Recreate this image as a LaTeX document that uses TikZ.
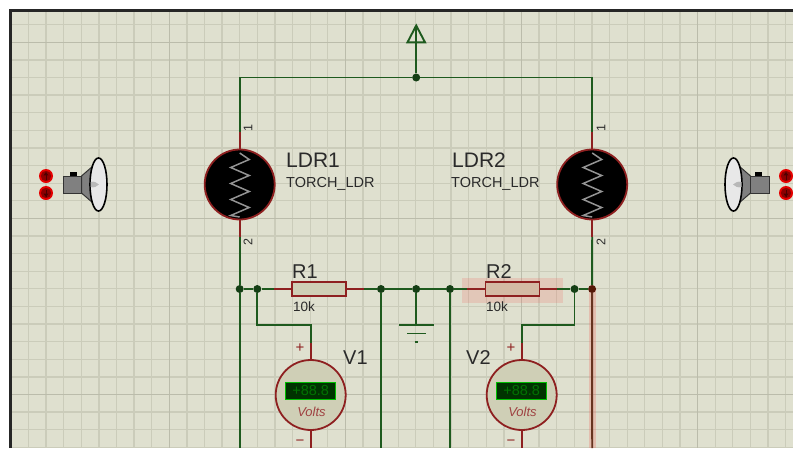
\documentclass[tikz,border=0pt]{standalone}
\usepackage{fontspec}
\usepackage{xcolor}
\setmainfont{Liberation Sans}
\definecolor{sheet}{HTML}{DFE0CF}
\definecolor{gridminor}{HTML}{CBCCBA}
\definecolor{gridmajor}{HTML}{BBBCAB}
\definecolor{wiregreen}{HTML}{1E5A1E}
\definecolor{pinred}{HTML}{8E2020}
\definecolor{partfill}{HTML}{CFCFB6}
\definecolor{inktext}{HTML}{2A2A2A}

\begin{document}
\begin{tikzpicture}[x=1pt,y=-1pt]
                        \tikzset{Wire/.style={-,draw=wiregreen,line width=1.9pt},%
                                Pin/.style={-,draw=pinred,line width=1.9pt},%
                                Junction/.style={%
                                shape=circle,%
                                fill=wiregreen!70!black,%
                                minimum size=8pt,%
                                inner sep=0pt,%
                            },%
                                Ldr/.style={%
                                shape=circle,%
                                draw=pinred,%
                                fill=black,%
                                line width=1.8pt,%
                                minimum size=70pt,%
                                inner sep=0pt,%
                            },%
                                Meter/.style={%
                                shape=circle,%
                                draw=pinred,%
                                fill=partfill,%
                                line width=1.8pt,%
                                minimum size=70pt,%
                                inner sep=0pt,%
                            },%
                                Display/.style={%
                                shape=rectangle,%
                                draw=green!75!black,%
                                fill=green!20!black,%
                                text=green!45!black,%
                                line width=1.2pt,%
                                minimum width=50pt,%
                                minimum height=17pt,%
                                inner sep=0pt,%
                                font=\fontsize{14.5}{15}\selectfont,%
                            },%
                                Res/.style={%
                                shape=rectangle,%
                                draw=pinred,%
                                fill=partfill,%
                                line width=1.9pt,%
                                minimum width=54pt,%
                                minimum height=14pt,%
                                inner sep=0pt,%
                            },%
                                Big/.style={anchor=base west,inner sep=0pt,text=inktext,font=\fontsize{20}{20}\selectfont},%
                                Small/.style={anchor=base west,inner sep=0pt,text=inktext,font=\fontsize{13.5}{14}\selectfont},%
                                PinNum/.style={inner sep=0pt,text=inktext,rotate=90,font=\fontsize{12.5}{13}\selectfont},%
                                Sign/.style={inner sep=0pt,text=pinred,font=\fontsize{15}{15}\selectfont},%
                                Speaker/.pic={%
                                \foreach \s/\t in {-8.5/-1,8.5/1}{%
                                    \fill[red!90!black] (0,\s) circle (7);
                                    \fill[red!55!black] (0,\s) circle (5.2);
                                    \draw[black!70!red,line width=0.9pt] (0,\s-3.5*\t) -- (0,\s+3.5*\t);
                                    \fill[black!70!red] (-2.4,\s*1+0.6*\t) -- (2.4,\s*1+0.6*\t) -- (0,\s+4*\t) -- cycle;
                                }
                                \fill[black] (24,-12.5) rectangle (31,-8.5);
                                \draw[black!80,line width=1pt,fill=gray] (35.5,-8.5) -- (47,-18.5) -- (47,18.5) -- (35.5,8.5) -- cycle;
                                \draw[black!80,line width=1pt,fill=gray] (17,-8.5) rectangle (35.5,8.5);
                                \draw[black,line width=1.6pt,fill=black!9] (52.5,0) ellipse (8.5 and 26.5);
                                \fill[black!28] (44.5,-2.5) .. controls (48,-3.5) and (51,-2) .. (53,0) .. controls (51,2) and (48,3.5) .. (44.5,2.5) -- cycle;
                            },%
                                Zigzag/.pic={%
                                \draw[black!42,line width=1.5pt] (0,-31.5) -- (9.5,-25) -- (-9,-17) -- (9.5,-9) -- (-9,-1) -- (9.5,7) -- (-9,15) -- (9.5,23) -- (-9,31) -- (0,32.5);
                            }}

                            % sheet and grid
                            \useasboundingbox (0,0) rectangle (793,448);
                            \fill[white] (0,0) rectangle (793,448);
                            \fill[sheet] (10,10) rectangle (793,448);
                            \foreach \i in {-8,...,35}{%
                                \pgfmathsetmacro{\gx}{169.3+17.61*\i}
                                \draw[gridminor,line width=1.3pt] (\gx,10) -- (\gx,448);
                            }
                            \foreach \i in {-1,...,23}{%
                                \pgfmathsetmacro{\gy}{42.3+17.61*\i}
                                \draw[gridminor,line width=1.3pt] (10,\gy) -- (793,\gy);
                            }
                            \foreach \gx in {169.3,345.4,521.5,697.6}{%
                                \draw[gridmajor,line width=1.4pt] (\gx,10) -- (\gx,448);
                            }
                            \foreach \gy in {42.3,218.4,394.5}{%
                                \draw[gridmajor,line width=1.4pt] (10,\gy) -- (793,\gy);
                            }
                            \draw[black!85,line width=3pt] (10,448) -- (10,10) -- (793,10);

                            % highlight of the selected part
                            \fill[red!50!sheet,opacity=0.22] (462,277.7) rectangle (563,302.7);
                            \fill[red!50!sheet,opacity=0.3] (588.5,289) rectangle (596,448);

                            % parts
                            \node[Ldr] (ldra) at (239.7,184.5) {};
                            \node[Ldr] (ldrb) at (592.2,184.5) {};
                            \pic at (ldra) {Zigzag};
                            \pic at (ldrb) {Zigzag};
                            \node[Meter] (va) at (310.7,395) {};
                            \node[Meter] (vb) at (521.7,395) {};
                            \node[Display] (da) at (310.7,391) {+88.8};
                            \node[Display] (db) at (521.7,391) {+88.8};
                            \node[inner sep=0pt,text=pinred!85!white,font=\fontsize{13}{13}\itshape] (ta) at (311.5,412) {Volts};
                            \node[inner sep=0pt,text=pinred!85!white,font=\fontsize{13}{13}\itshape] (tb) at (522.5,412) {Volts};
                            \pic at (46,184.5) {Speaker};
                            \pic[xscale=-1] at (786,184.5) {Speaker};

                            % junctions on the resistor rail
                            \node[Junction] (j1) at (239.7,289) {};
                            \node[Junction, right of=j1, node distance=17.6pt] (j2) {};
                            \node[Res, right of=j2, node distance=61.7pt] (r1) {};
                            \node[Junction, right of=r1, node distance=62pt] (j3) {};
                            \node[Junction, right of=j3, node distance=35.2pt] (j4) {};
                            \node[Junction, right of=j4, node distance=33.8pt] (j5) {};
                            \node[Res, fill=red!10!partfill, right of=j5, node distance=62.5pt] (r2) {};
                            \node[Junction, right of=r2, node distance=62pt] (j6) {};
                            \node[Junction, fill=black!60!wiregreen!70!red, right of=j6, node distance=17.6pt] (j7) {};
                            \node[Junction] (jt) at (416.2,77.5) {};

                            % free ends of pins and wires
                            \coordinate (la1) at (239.7,131.5);
                            \coordinate (lb1) at (592.2,131.5);
                            \coordinate (la2) at (239.7,237);
                            \coordinate (lb2) at (592.2,237);
                            \coordinate (ca) at (239.7,77.5);
                            \coordinate (cb) at (592.2,77.5);
                            \coordinate (ra1) at (274,289);
                            \coordinate (ra2) at (364,289);
                            \coordinate (rb1) at (467,289);
                            \coordinate (rb2) at (557,289);
                            \coordinate (pa) at (310.7,343);
                            \coordinate (pb) at (521.7,343);
                            \coordinate (qa) at (310.7,325);
                            \coordinate (qb) at (521.7,325);
                            \coordinate (ea) at (310.7,448);
                            \coordinate (eb) at (521.7,448);
                            \coordinate (ba) at (239.7,448);
                            \coordinate (bb) at (381,448);
                            \coordinate (bc) at (450,448);
                            \coordinate (bd) at (592.2,448);
                            \coordinate (g0) at (416.2,325);
                            \coordinate (g1) at (399,325);
                            \coordinate (g2) at (434,325);
                            \coordinate (g3) at (407,333.5);
                            \coordinate (g4) at (425.5,333.5);
                            \coordinate (g5) at (414.5,342);
                            \coordinate (g6) at (418,342);
                            \coordinate (ap) at (416.2,25.5);
                            \coordinate (al) at (407.5,42.3);
                            \coordinate (ar) at (425,42.3);

                            % connections
                            \path (ca) edge[Wire] (jt);
                            \path (jt) edge[Wire] (cb);
                            \draw[Wire,line cap=rect] (ca) -- (la1);
                            \draw[Wire,line cap=rect] (cb) -- (lb1);
                            \path (la1) edge[Pin] (ldra);
                            \path (lb1) edge[Pin] (ldrb);
                            \path (ldra) edge[Pin] (la2);
                            \path (ldrb) edge[Pin] (lb2);
                            \path (la2) edge[Wire] (j1);
                            \path (lb2) edge[Wire] (j7);
                            \path (j1) edge[Wire] (ba);
                            \path (j1) edge[Wire] (j2);
                            \path (j2) edge[Wire] (ra1);
                            \path (ra1) edge[Pin] (r1);
                            \path (r1) edge[Pin] (ra2);
                            \path (ra2) edge[Wire] (j3);
                            \path (j3) edge[Wire] (j4);
                            \path (j4) edge[Wire] (j5);
                            \path (j5) edge[Wire] (rb1);
                            \path (rb1) edge[Pin] (r2);
                            \path (r2) edge[Pin] (rb2);
                            \path (rb2) edge[Wire] (j6);
                            \path (j6) edge[Wire] (j7);
                            \path (j3) edge[Wire] (bb);
                            \path (j5) edge[Wire] (bc);
                            \path (j7) edge[-,draw=pinred!65!wiregreen,line width=1.9pt] (bd);
                            \draw[Wire] (j2) |- (qa) -- (pa);
                            \draw[Wire] (j6) |- (qb) -- (pb);
                            \path (pa) edge[Pin] (va);
                            \path (pb) edge[Pin] (vb);
                            \path (va) edge[Pin] (ea);
                            \path (vb) edge[Pin] (eb);
                            \path (j4) edge[Wire] (g0);
                            \path (g1) edge[Wire] (g2);
                            \path (g3) edge[Wire] (g4);
                            \path (g5) edge[Wire] (g6);
                            \path (jt) edge[Wire] (ap);
                            \draw[Wire] (ap) -- (al) -- (ar) -- cycle;

                            % labels
                            \node[Big, font=\fontsize{21}{21}\selectfont] (la) at (286,167.5) {LDR1};
                            \node[Big, font=\fontsize{21}{21}\selectfont] (lb) at (452,167.5) {LDR2};
                            \node[Small, font=\fontsize{14.5}{15}\selectfont] (tca) at (286,187) {TORCH\_LDR};
                            \node[Small, font=\fontsize{14.5}{15}\selectfont] (tcb) at (451,187) {TORCH\_LDR};
                            \node[Big] (ra) at (292,278) {R1};
                            \node[Big] (rb) at (486,278) {R2};
                            \node[Small] (va1) at (293,311) {10k};
                            \node[Small] (vb1) at (486,311) {10k};
                            \node[Big] (na) at (343,364) {V1};
                            \node[Big] (nb) at (466,364) {V2};
                            \node[PinNum] (n1) at (248,128) {1};
                            \node[PinNum] (n2) at (248,242) {2};
                            \node[PinNum] (n3) at (601,128) {1};
                            \node[PinNum] (n4) at (601,242) {2};
                            \node[Sign] (pla) at (300,348) {+};
                            \node[Sign] (plb) at (511,348) {+};
                            \node[Sign] (mia) at (300,443) {−};
                            \node[Sign] (mib) at (511,443) {−};
                    \end{tikzpicture}
\end{document}
